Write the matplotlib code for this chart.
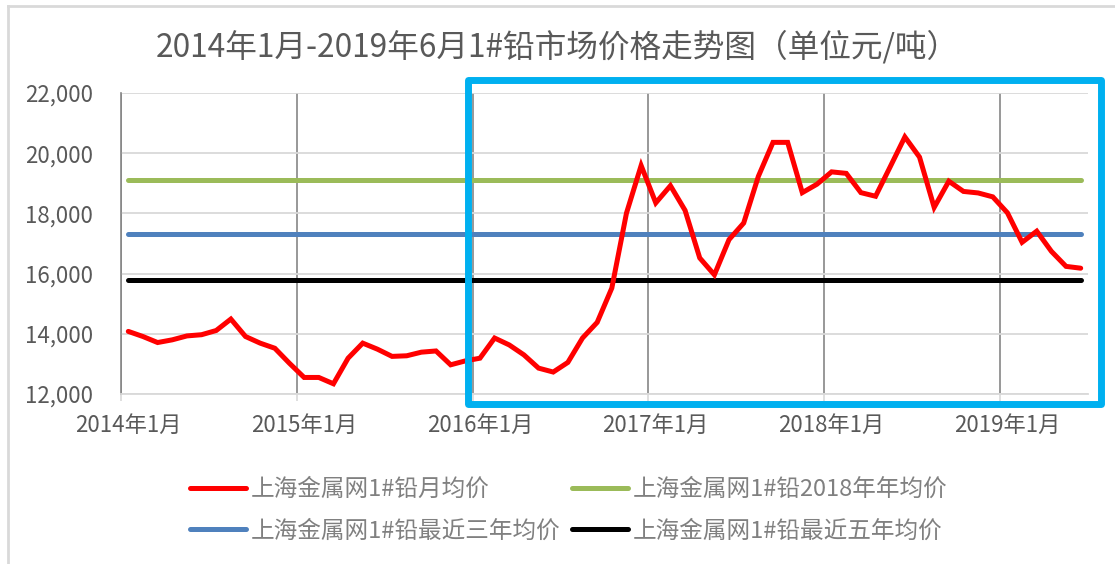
import matplotlib
matplotlib.use("Agg")
import matplotlib.pyplot as plt
import matplotlib.patches as patches
from matplotlib.lines import Line2D
from matplotlib.ticker import StrMethodFormatter, FixedLocator
import numpy as np

plt.rcParams['font.family'] = ['Noto Sans CJK SC', 'DejaVu Sans']

# monthly average price, 2014-01 .. 2019-06 (yuan/ton)
monthly_price = [14080, 13910, 13710, 13800, 13930, 13970, 14110, 14490, 13910, 13690, 13520, 13020,
                 12550, 12550, 12340, 13190, 13690, 13490, 13250, 13270, 13390, 13430, 12970, 13100,
                 13190, 13860, 13630, 13300, 12860, 12730, 13050, 13860, 14380, 15520, 18010, 19590,
                 18350, 18920, 18100, 16520, 15960, 17130, 17680, 19230, 20360, 20360, 18690, 18970,
                 19380, 19330, 18690, 18570, 19550, 20540, 19870, 18200, 19070, 18730, 18680, 18550,
                 18020, 17040, 17410, 16740, 16240, 16180]
avg_2018 = 19100
avg_3yr = 17330
avg_5yr = 15800

year_labels = ["2014年1月", "2015年1月", "2016年1月", "2017年1月", "2018年1月", "2019年1月"]
series_names = ["上海金属网1#铅月均价", "上海金属网1#铅2018年年均价",
                "上海金属网1#铅最近三年均价", "上海金属网1#铅最近五年均价"]
title = "2014年1月-2019年6月1#铅市场价格走势图（单位元/吨）"

n = len(monthly_price)
x = np.arange(n) + 0.5

fig = plt.figure(figsize=(11.15, 5.64), dpi=100)
ax = fig.add_axes([0.1085, 0.3014, 0.8673, 0.5337])

lw = 3.6
l_red, = ax.plot(x, monthly_price, color="#FF0000", lw=lw, solid_capstyle="round", solid_joinstyle="miter", zorder=5)
l_green, = ax.plot(x, [avg_2018] * n, color="#9BBB59", lw=lw, solid_capstyle="round", zorder=4)
l_blue, = ax.plot(x, [avg_3yr] * n, color="#4F81BD", lw=lw, solid_capstyle="round", zorder=4)
l_black, = ax.plot(x, [avg_5yr] * n, color="#000000", lw=lw, solid_capstyle="round", zorder=4)

ax.set_xlim(0, n)
ax.set_ylim(12000, 22000)
ax.set_yticks(np.arange(12000, 22001, 2000))
ax.yaxis.set_major_formatter(StrMethodFormatter("{x:,.0f}"))
ax.yaxis.grid(True, color="#d9d9d9", lw=1.3)
ax.set_axisbelow(True)

# year boundaries as gridlines, labels centred on the january category
ax.xaxis.set_minor_locator(FixedLocator(np.arange(0, n, 12)))
ax.set_xticks(np.arange(0, n, 12) + 0.5)
ax.set_xticklabels(year_labels)
ax.xaxis.grid(True, which="minor", color="#868686", lw=1.2)
ax.tick_params(axis="x", which="major", length=0, pad=14, labelsize=16, labelcolor="#595959")
ax.tick_params(axis="x", which="minor", length=5, color="#d9d9d9", width=1.2)
ax.tick_params(axis="y", length=0, pad=20, labelsize=16, labelcolor="#595959")

for s in ["top", "right"]:
    ax.spines[s].set_visible(False)
ax.spines["left"].set_color("#868686")
ax.spines["left"].set_linewidth(1.2)
ax.spines["bottom"].set_color("#d9d9d9")
ax.spines["bottom"].set_linewidth(1.3)

fig.text(0.5, 0.918, title, ha="center", va="center", fontsize=22.8, color="#595959")

# legend filled column-wise: red/blue in the first column, green/black in the second
leg = fig.legend([l_red, l_blue, l_green, l_black],
                 [series_names[0], series_names[2], series_names[1], series_names[3]],
                 ncol=2, frameon=False, loc="center", bbox_to_anchor=(0.51, 0.095), fontsize=17,
                 handlelength=2.35, handletextpad=0.2, columnspacing=0.5, labelspacing=0.78,
                 labelcolor="#808080")

# highlight box around the 2016-2019 period
box = patches.Rectangle((23.7, 11670), 66.9 - 23.7, 22430 - 11670, fill=False,
                        edgecolor="#00B0F0", lw=5, joinstyle="round", clip_on=False, zorder=10)
ax.add_patch(box)

# chart frame
fig.add_artist(Line2D([0.007, 1], [0.989, 0.989], transform=fig.transFigure, color="#d9d9d9", lw=2))
fig.add_artist(Line2D([0.007, 0.007], [0, 0.989], transform=fig.transFigure, color="#d9d9d9", lw=2))

fig.savefig("out.png", dpi=100)
